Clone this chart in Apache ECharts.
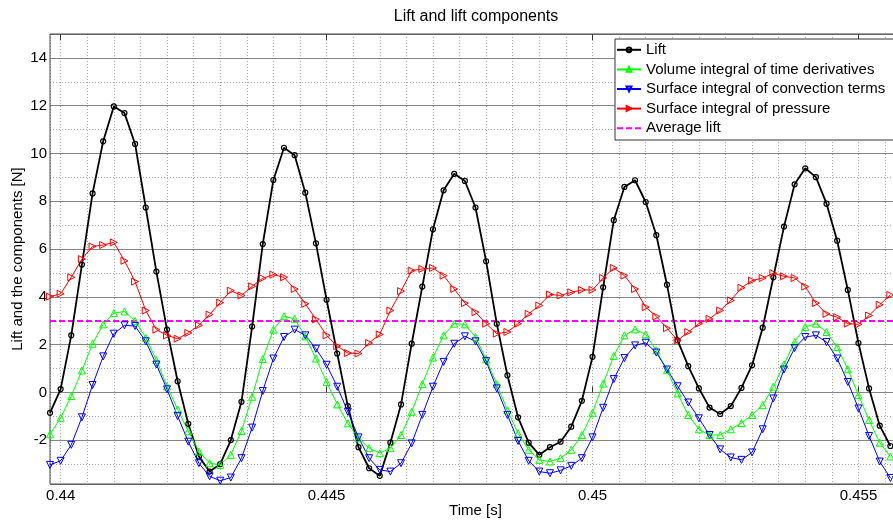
<!DOCTYPE html>
<html>
<head>
<meta charset="UTF-8">
<title>Lift and lift components</title>
<script src="https://cdn.jsdelivr.net/npm/echarts@6.0.0/dist/echarts.min.js"></script>
<style>
  html, body { margin: 0; padding: 0; background: #fff; }
  #main { width: 893px; height: 522px; }
</style>
</head>
<body>
<div id="main"></div>
<script>
// sample times [s]
var times = [
  0.4398, 0.4400, 0.4402, 0.4404, 0.4406, 0.4408, 0.4410, 0.4412, 0.4414, 0.4416,
  0.4418, 0.4420, 0.4422, 0.4424, 0.4426, 0.4428, 0.4430, 0.4432, 0.4434, 0.4436,
  0.4438, 0.4440, 0.4442, 0.4444, 0.4446, 0.4448, 0.4450, 0.4452, 0.4454, 0.4456,
  0.4458, 0.4460, 0.4462, 0.4464, 0.4466, 0.4468, 0.4470, 0.4472, 0.4474, 0.4476,
  0.4478, 0.4480, 0.4482, 0.4484, 0.4486, 0.4488, 0.4490, 0.4492, 0.4494, 0.4496,
  0.4498, 0.4500, 0.4502, 0.4504, 0.4506, 0.4508, 0.4510, 0.4512, 0.4514, 0.4516,
  0.4518, 0.4520, 0.4522, 0.4524, 0.4526, 0.4528, 0.4530, 0.4532, 0.4534, 0.4536,
  0.4538, 0.4540, 0.4542, 0.4544, 0.4546, 0.4548, 0.4550, 0.4552, 0.4554, 0.4556
];

var lift = [
  -0.85, 0.14, 2.39, 5.35, 8.33, 10.51, 11.97, 11.69, 10.4, 7.74,
  5.06, 2.63, 0.47, -1.31, -2.68, -3.31, -3.0, -1.99, -0.39, 2.76,
  6.21, 8.89, 10.24, 9.93, 8.36, 6.24, 3.88, 1.63, -0.57, -2.29,
  -3.17, -3.49, -2.1, -0.5, 2.04, 4.43, 6.83, 8.46, 9.15, 8.85,
  7.74, 5.49, 2.88, 0.72, -1.04, -2.1, -2.61, -2.29, -2.06, -1.43,
  -0.35, 1.49, 4.4, 7.21, 8.6, 8.88, 7.97, 6.58, 4.51, 2.18,
  1.1, 0.17, -0.63, -0.9, -0.57, 0.19, 1.14, 2.71, 4.82, 6.94,
  8.71, 9.38, 9.01, 7.9, 6.35, 4.29, 2.07, 0.17, -1.39, -2.24
];

var volumeTerm = [
  -1.75, -1.06, -0.15, 0.92, 2.04, 2.85, 3.32, 3.39, 2.99, 2.29,
  1.35, 0.26, -0.71, -1.62, -2.47, -2.96, -3.03, -2.61, -1.61, -0.18,
  1.4, 2.63, 3.19, 3.08, 2.35, 1.42, 0.44, -0.5, -1.29, -1.92,
  -2.33, -2.54, -2.33, -1.78, -0.81, 0.35, 1.46, 2.39, 2.88, 2.85,
  2.32, 1.39, 0.35, -0.74, -1.71, -2.4, -2.82, -2.89, -2.75, -2.4,
  -1.78, -0.85, 0.37, 1.53, 2.39, 2.64, 2.43, 1.76, 0.93, -0.04,
  -0.94, -1.54, -1.78, -1.78, -1.54, -1.28, -0.94, -0.53, 0.24, 1.18,
  2.11, 2.74, 2.88, 2.53, 1.9, 0.97, -0.11, -1.15, -2.1, -2.68
];

var convectionTerm = [
  -3.03, -2.86, -2.19, -1.04, 0.31, 1.51, 2.46, 2.81, 2.78, 2.14,
  1.17, 0.13, -0.99, -2.06, -2.96, -3.51, -3.69, -3.56, -2.75, -1.47,
  0.06, 1.42, 2.32, 2.63, 2.39, 1.83, 1.16, 0.24, -0.81, -1.88,
  -2.75, -3.24, -3.31, -2.96, -2.13, -0.94, 0.24, 1.28, 2.04, 2.35,
  2.14, 1.31, 0.17, -0.94, -2.03, -2.86, -3.31, -3.38, -3.26, -3.07,
  -2.75, -1.88, -0.64, 0.56, 1.44, 1.97, 2.08, 1.67, 0.96, 0.26,
  -0.42, -1.08, -1.78, -2.38, -2.72, -2.82, -2.51, -1.54, -0.25, 0.96,
  1.86, 2.32, 2.39, 2.11, 1.42, 0.44, -0.67, -1.82, -2.89, -3.58
];

var pressureTerm = [
  4.01, 4.13, 4.82, 5.58, 6.11, 6.17, 6.28, 5.51, 4.64, 3.43,
  2.63, 2.39, 2.25, 2.49, 2.81, 3.26, 3.76, 4.26, 4.06, 4.44,
  4.78, 4.93, 4.82, 4.33, 3.71, 3.06, 2.39, 1.94, 1.65, 1.63,
  2.07, 2.43, 3.43, 4.24, 5.1, 5.17, 5.21, 4.89, 4.33, 3.74,
  3.36, 2.88, 2.46, 2.53, 2.88, 3.29, 3.64, 4.1, 4.06, 4.19,
  4.29, 4.29, 4.79, 5.21, 4.89, 4.33, 3.57, 3.18, 2.69, 2.18,
  2.53, 2.88, 3.08, 3.43, 3.85, 4.38, 4.68, 4.79, 4.99, 4.86,
  4.79, 4.43, 3.74, 3.29, 3.15, 2.88, 2.85, 3.22, 3.67, 4.08
];

var averageLift = 3.0;
var xTicks = [0.44, 0.445, 0.45, 0.455];
var yLabelStep = 2;

function pairs(vals) {
  return times.map(function (t, i) { return [t, vals[i]]; });
}

var font = "'Liberation Sans', Arial, sans-serif";
var xMin = 0.4398, xMax = 0.4558;
var yMin = -3.83, yMax = 15;

var myChart = echarts.init(document.getElementById('main'));
var option = {
  animation: false,
  backgroundColor: '#fff',
  graphic: [{
    type: 'text', x: 476, y: 17,
    style: { text: 'Lift and lift components', fill: '#000', font: '16px ' + font, textAlign: 'center', textVerticalAlign: 'middle' }
  }],
  grid: {
    left: 50, top: 34, bottom: 38, right: -8,
    outerBoundsMode: 'none', containLabel: false,
    show: true, borderColor: '#444', borderWidth: 1, backgroundColor: 'rgba(0,0,0,0)', z: 3
  },
  legend: {
    orient: 'vertical', left: 615, top: 39,
    padding: [1, 16, 2, 1], itemGap: 0, itemWidth: 24, itemHeight: 6,
    backgroundColor: '#fff', borderColor: '#333', borderWidth: 1,
    selectedMode: false, z: 10,
    textStyle: { fontSize: 15, fontFamily: font, color: '#000', lineHeight: 19.6 },
    data: ['Lift', 'Volume integral of time derivatives', 'Surface integral of convection terms', 'Surface integral of pressure', 'Average lift']
  },
  xAxis: [{
    // minor vertical grid
    type: 'value', min: xMin, max: xMax, splitNumber: 32, z: 1,
    axisLine: { show: false }, axisTick: { show: false }, axisLabel: { show: false },
    splitLine: { show: true, lineStyle: { color: '#a8a8a8', width: 1, type: [1, 2] } }
  }, {
    type: 'value', min: xMin, max: xMax, position: 'bottom', z: 2,
    axisLine: { show: false },
    axisTick: { show: true, inside: true, length: 6, customValues: xTicks, lineStyle: { color: '#333' } },
    axisLabel: { show: true, customValues: xTicks, margin: 4, fontSize: 15, fontFamily: font, color: '#000' },
    splitLine: { show: false },
    name: 'Time [s]', nameLocation: 'middle', nameGap: 19, nameMoveOverlap: false,
    nameTextStyle: { fontSize: 15, fontFamily: font, color: '#000' }
  }, {
    type: 'value', min: xMin, max: xMax, position: 'top', z: 2,
    axisLine: { show: false },
    axisTick: { show: true, inside: true, length: 6, customValues: xTicks, lineStyle: { color: '#333' } },
    axisLabel: { show: false },
    splitLine: { show: false }
  }],
  yAxis: [{
    type: 'value', min: yMin, max: yMax, splitNumber: 10, z: 2,
    axisLine: { show: false }, axisTick: { show: false },
    axisLabel: {
      margin: 3, fontSize: 15, fontFamily: font, color: '#000',
      formatter: function (v) {
        var r = Math.round(v);
        return (Math.abs(v - r) < 1e-6 && r % yLabelStep === 0) ? String(r) : '';
      }
    },
    splitLine: { show: true, lineStyle: { color: '#858585', width: 1, type: 'solid' } },
    name: 'Lift and the components [N]', nameLocation: 'middle', nameGap: 25, nameRotate: 90, nameMoveOverlap: false,
    nameTextStyle: { fontSize: 15, fontFamily: font, color: '#000' }
  }, {
    type: 'value', min: yMin, max: yMax, splitNumber: 19, z: 1,
    axisLine: { show: false }, axisTick: { show: false }, axisLabel: { show: false },
    splitLine: { show: true, lineStyle: { color: '#a8a8a8', width: 1, type: [1, 2] } }
  }],
  series: [{
    name: 'Lift', type: 'line', data: pairs(lift), z: 5,
    symbol: 'circle', symbolSize: 5,
    lineStyle: { color: '#000', width: 1.8 },
    itemStyle: { color: 'rgba(255,255,255,0)', borderColor: '#000', borderWidth: 1.2 }
  }, {
    name: 'Volume integral of time derivatives', type: 'line', data: pairs(volumeTerm), z: 5,
    symbol: 'triangle', symbolSize: 7,
    lineStyle: { color: '#00ff00', width: 1 },
    itemStyle: { color: 'rgba(255,255,255,0)', borderColor: '#00ff00', borderWidth: 1 }
  }, {
    name: 'Surface integral of convection terms', type: 'line', data: pairs(convectionTerm), z: 5,
    symbol: 'triangle', symbolSize: 7, symbolRotate: 180,
    lineStyle: { color: '#0000ff', width: 1 },
    itemStyle: { color: 'rgba(255,255,255,0)', borderColor: '#0000ff', borderWidth: 1 }
  }, {
    name: 'Surface integral of pressure', type: 'line', data: pairs(pressureTerm), z: 5,
    symbol: 'triangle', symbolSize: 7, symbolRotate: -90,
    lineStyle: { color: '#ff0000', width: 1 },
    itemStyle: { color: 'rgba(255,255,255,0)', borderColor: '#ff0000', borderWidth: 1 }
  }, {
    name: 'Average lift', type: 'line', data: [], z: 5,
    symbol: 'circle',
    lineStyle: { color: '#ff00ff', width: 2, type: [6, 3] },
    itemStyle: { color: 'rgba(0,0,0,0)', borderWidth: 0 },
    markLine: {
      silent: true, symbol: ['none', 'none'], label: { show: false },
      lineStyle: { color: '#ff00ff', width: 2, type: [6, 3] },
      data: [{ yAxis: averageLift }]
    }
  }]
};
myChart.setOption(option);
</script>
</body>
</html>
